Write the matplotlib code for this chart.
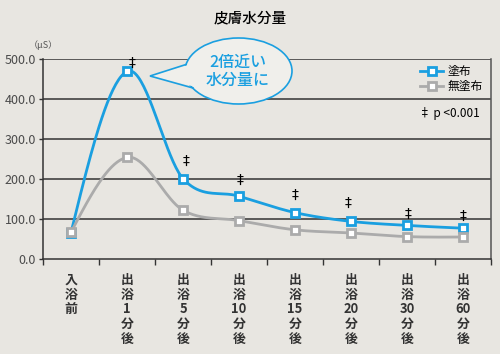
import numpy as np
import matplotlib
matplotlib.use("Agg")
import matplotlib.pyplot as plt
from matplotlib.patches import Ellipse, Polygon
from matplotlib.lines import Line2D

plt.rcParams['font.family'] = ['Noto Sans CJK JP', 'DejaVu Sans']

categories = ["入浴前", "出浴1分後", "出浴5分後", "出浴10分後", "出浴15分後",
              "出浴20分後", "出浴30分後", "出浴60分後"]
tick_labels = ["入\n浴\n前", "出\n浴\n1\n分\n後", "出\n浴\n5\n分\n後", "出\n浴\n10\n分\n後",
               "出\n浴\n15\n分\n後", "出\n浴\n20\n分\n後", "出\n浴\n30\n分\n後", "出\n浴\n60\n分\n後"]
applied = [66, 469, 201, 157, 116, 94, 84, 77]       # 塗布
not_applied = [67, 254, 122, 96, 73, 65, 56, 55]     # 無塗布
significant = [False, True, True, True, True, True, True, True]
y_ticks = [0, 100, 200, 300, 400, 500]

BLUE = "#1a9fe0"
GRAY = "#ababab"
BG = "#e8e6e1"
DARK = "#333333"


def smooth(y, n=40):
    """Hermite curve: central-difference tangents inside, natural-like at the ends."""
    y = np.asarray(y, float)
    k = len(y)
    m = np.zeros(k)
    m[1:-1] = (y[2:] - y[:-2]) / 2.0
    m[0] = 1.5 * (y[1] - y[0]) - 0.5 * m[1]
    m[-1] = 1.5 * (y[-1] - y[-2]) - 0.5 * m[-2]
    xs, ys = [], []
    for i in range(k - 1):
        t = np.linspace(0, 1, n, endpoint=(i == k - 2))
        h00 = 2 * t**3 - 3 * t**2 + 1
        h10 = t**3 - 2 * t**2 + t
        h01 = -2 * t**3 + 3 * t**2
        h11 = t**3 - t**2
        ys.append(h00 * y[i] + h10 * m[i] + h01 * y[i + 1] + h11 * m[i + 1])
        xs.append(i + t)
    return np.concatenate(xs), np.concatenate(ys)


fig = plt.figure(figsize=(5.0, 3.54), dpi=100, facecolor=BG)
ax = fig.add_axes([43 / 500, 1 - 259 / 354, (491 - 43) / 500, 200 / 354])
ax.set_facecolor(BG)

n = len(categories)
ax.set_xlim(-0.5, n - 0.5)
ax.set_ylim(0, 500)

for v in y_ticks[1:]:
    ax.axhline(v, color=DARK, lw=1.1, zorder=1)

xb, yb = smooth(applied)
xg, yg = smooth(not_applied)
idx = np.arange(n)
ax.plot(xb, yb, color=BLUE, lw=2.0, zorder=3, solid_capstyle='round')
ax.plot(idx, applied, ls='none', marker='s', ms=6, mfc='white', mec=BLUE, mew=2.0, zorder=4)
ax.plot(xg, yg, color=GRAY, lw=2.0, zorder=5, solid_capstyle='round')
ax.plot(idx, not_applied, ls='none', marker='s', ms=6, mfc='white', mec=GRAY, mew=2.0, zorder=6)

# significance marks
offsets = [0, 1, 8, 7, 8, 8, 3, 4]
xoffs = [0, 4, 2, 1, 0, -2, 1, 0]
for i, (s, v) in enumerate(zip(significant, applied)):
    if s:
        ax.annotate("‡", (i, v), xytext=(xoffs[i], offsets[i]), textcoords='offset points',
                    ha='center', va='bottom', fontsize=10, color='black', zorder=7,
                    annotation_clip=False, family=['DejaVu Sans'])

ax.set_yticks(y_ticks)
ax.set_yticklabels([f"{v:.1f}" for v in y_ticks], fontsize=9, color="#4a4a4a")
ax.tick_params(axis='y', length=3, width=1, color=DARK, pad=2)

ax.set_xticks(idx)
ax.set_xticklabels(tick_labels, fontsize=9.3, color="#333333", linespacing=1.06,
                   fontweight='bold', va='top')
ax.set_xticks(np.arange(n + 1) - 0.5, minor=True)
ax.tick_params(axis='x', which='major', length=0, pad=10)
ax.tick_params(axis='x', which='minor', length=4, width=1, color=DARK)

for side in ['left', 'bottom']:
    ax.spines[side].set_color(DARK)
    ax.spines[side].set_linewidth(1.1)
ax.spines['right'].set_color("#555555")
ax.spines['right'].set_linewidth(1.1)
ax.spines['top'].set_visible(False)

# legend
handles = [Line2D([], [], color=BLUE, lw=2.0, marker='s', ms=6, mfc='white', mec=BLUE, mew=2.0),
           Line2D([], [], color=GRAY, lw=2.0, marker='s', ms=6, mfc='white', mec=GRAY, mew=2.0)]
leg = ax.legend(handles, ["塗布", "無塗布"], loc='upper right', bbox_to_anchor=(1.0, 1.01),
                frameon=False, fontsize=8.5, handlelength=1.9, handletextpad=0.4,
                labelspacing=0.15, borderaxespad=0.3)
leg.set_zorder(8)

# overlay in pixel coordinates for annotations
ov = fig.add_axes([0, 0, 1, 1], zorder=10)
ov.set_xlim(0, 500)
ov.set_ylim(354, 0)
ov.axis('off')
ov.patch.set_alpha(0)

ov.text(250, 18, "皮膚水分量", ha='center', va='center', fontsize=10.5, color='black',
        fontweight='medium')
ov.text(43, 45, "（μS）", ha='center', va='center', fontsize=6.5, color='#555555')
ov.text(449, 113, "‡ p <0.001", ha='center', va='center', fontsize=8.5, color='black')

callout_fill = "#f0efeb"
ell = Ellipse((238.5, 71), 107, 66, facecolor=callout_fill, edgecolor=BLUE, lw=1.2)
ov.add_patch(ell)
tip = (150, 76)
b1 = (186, 64.5)
b2 = (193, 88)
ov.add_patch(Polygon([tip, (b1[0] + 2.5, b1[1] + 0.3), (b2[0] + 2, b2[1] - 1.2)], closed=True,
                     facecolor=callout_fill, edgecolor='none'))
ov.plot([b1[0], tip[0], b2[0]], [b1[1], tip[1], b2[1]], color=BLUE, lw=1.2,
        solid_joinstyle='miter')
ov.text(238, 71, "2倍近い\n水分量に", ha='center', va='center', fontsize=11.5, color=BLUE,
        linespacing=1.1, fontweight='medium')

fig.savefig("out.png", dpi=100, facecolor=BG)
